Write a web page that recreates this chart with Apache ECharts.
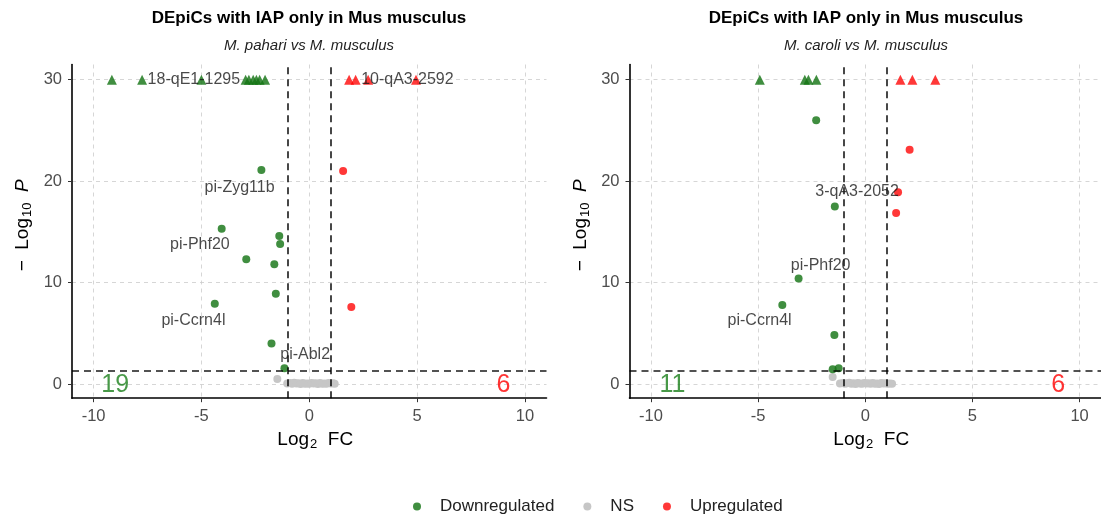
<!DOCTYPE html>
<html><head><meta charset="utf-8">
<script src="https://cdn.jsdelivr.net/npm/echarts@6/dist/echarts.min.js"></script>
<style>html,body{margin:0;padding:0;background:#fff}#c{width:1101px;height:517px}</style>
</head><body><div id="c"></div>
<script>
// ---------- data ----------
const xTicks = [-10, -5, 0, 5, 10];
const yTicks = [0, 10, 20, 30];
const titleText = 'DEpiCs with IAP only in Mus musculus';
const subtitles = ['M. pahari vs M. musculus', 'M. caroli vs M. musculus'];
const legendNames = ['Downregulated', 'NS', 'Upregulated'];
const fcCut = 1;
const pCut = 1.30103;

// panel 1: M. pahari vs M. musculus
const p1DownTri = [[-9.15,30],[-7.75,30],[-5.0,30],[-2.95,30],[-2.8,30],[-2.6,30],[-2.45,30],[-2.3,30],[-2.05,30]];
const p1DownCirc = [[-2.22,21.1],[-4.06,15.3],[-1.39,14.6],[-1.35,13.8],[-2.92,12.3],[-1.62,11.8],[-1.55,8.9],[-4.38,7.9],[-1.75,4.0],[-1.15,1.55]];
const p1UpTri = [[1.85,30],[2.15,30],[2.73,30],[4.95,30]];
const p1UpCirc = [[1.57,21.0],[1.95,7.6]];
const p1NS = [[-1.48,0.5],[-1.02,0.05],[-0.9,0.1],[-0.8,0.02],[-0.7,0.12],[-0.6,0.04],[-0.5,0.08],[-0.4,0.01],[-0.3,0.1],[-0.2,0.03],[-0.1,0.06],[0.0,0.02],[0.1,0.09],[0.2,0.04],[0.3,0.07],[0.4,0.01],[0.5,0.11],[0.6,0.03],[0.7,0.06],[0.8,0.02],[0.9,0.1],[1.0,0.05],[1.1,0.08],[1.18,0.03]];
const p1Labels = [['18-qE1-1295',-5.35,30],['10-qA3-2592',4.55,30],['pi-Zyg11b',-3.23,19.35],['pi-Phf20',-5.07,13.7],['pi-Ccrn4l',-5.37,6.3],['pi-Abl2',-0.19,2.86]];
const p1Counts = [['19',-9,-0.15,'down'],['6',9,-0.15,'up']];

// panel 2: M. caroli vs M. musculus
const p2DownTri = [[-4.92,30],[-2.82,30],[-2.65,30],[-2.28,30]];
const p2DownCirc = [[-2.29,26.0],[-1.42,17.5],[-3.11,10.4],[-3.87,7.8],[-1.44,4.84],[-1.52,1.45],[-1.24,1.55]];
const p2UpTri = [[1.64,30],[2.2,30],[3.27,30]];
const p2UpCirc = [[2.07,23.1],[1.53,18.9],[1.44,16.85]];
const p2NS = [[-1.52,0.69],[-1.18,0.04],[-1.05,0.1],[-0.95,0.02],[-0.85,0.08],[-0.75,0.12],[-0.65,0.03],[-0.55,0.07],[-0.45,0.01],[-0.35,0.09],[-0.25,0.05],[-0.15,0.02],[-0.05,0.11],[0.05,0.04],[0.15,0.07],[0.25,0.02],[0.35,0.1],[0.45,0.03],[0.55,0.06],[0.65,0.01],[0.75,0.09],[0.85,0.04],[0.95,0.08],[1.05,0.02],[1.15,0.06],[1.25,0.03]];
const p2Labels = [['3-qA3-2052',-0.38,18.95],['pi-Phf20',-2.08,11.7],['pi-Ccrn4l',-4.93,6.3]];
const p2Counts = [['11',-9,-0.15,'down'],['6',9,-0.15,'up']];

// ---------- styles ----------
const FONT = 'Liberation Sans';
const colDown = '#167516', colUp = '#ff0000', colNS = '#c6c6c6';
const countCol = {down: '#1a7f1a', up: '#ff0000'};

const chart = echarts.init(document.getElementById('c'));

function xAxisFor(gi) {
  return {
    gridIndex: gi, type: 'value', min: -11, max: 11,
    name: 'Log{s|2}  FC', nameLocation: 'middle', nameGap: 30,
    nameTextStyle: {fontFamily: FONT, fontSize: 19, color: '#000', padding: [0,0,0,12],
      rich: {s: {fontFamily: FONT, fontSize: 13, color: '#000', padding: [9,0,0,1]}}},
    axisLine: {show: true, onZero: false, lineStyle: {color: '#000', width: 1.6}},
    axisTick: {show: true, length: 4, lineStyle: {color: '#333', width: 1}, customValues: xTicks},
    axisLabel: {fontFamily: FONT, fontSize: 16.5, color: '#4d4d4d', margin: 10, customValues: xTicks},
    splitLine: {show: true, lineStyle: {color: '#cccccc', width: 0.8, type: [4,4]}}
  };
}
function yAxisFor(gi) {
  return {
    gridIndex: gi, type: 'value', min: -1.4, max: 31.5,
    name: '{a|−  Log}{s|10}{a|  }{i|P}', nameLocation: 'middle', nameGap: 38,
    nameTextStyle: {fontFamily: FONT, fontSize: 19, color: '#000', padding: [0,0,0,12],
      rich: {a: {fontFamily: FONT, fontSize: 19, color: '#000'},
             s: {fontFamily: FONT, fontSize: 13, color: '#000', padding: [9,0,0,1]},
             i: {fontFamily: FONT, fontSize: 19, fontStyle: 'italic', color: '#000'}}},
    axisLine: {show: true, onZero: false, lineStyle: {color: '#000', width: 1.6}},
    axisTick: {show: true, length: 4, lineStyle: {color: '#333', width: 1}, customValues: yTicks},
    axisLabel: {fontFamily: FONT, fontSize: 16.5, color: '#4d4d4d', margin: 10, customValues: yTicks},
    splitLine: {show: true, lineStyle: {color: '#cccccc', width: 0.8, type: [4,4]}}
  };
}

function pointSeries(gi, name, data, symbol, color, opacity, size) {
  return {
    type: 'scatter', name: name, xAxisIndex: gi, yAxisIndex: gi,
    data: data, symbol: symbol, symbolSize: size,
    itemStyle: {color: color, opacity: opacity}, silent: true, z: 3
  };
}

function panelSeries(gi, d) {
  return [
    {
      type: 'scatter', name: 'NS', xAxisIndex: gi, yAxisIndex: gi, data: d.ns,
      symbol: 'circle', symbolSize: 8, itemStyle: {color: colNS, opacity: 1}, z: 2, silent: true,
      markLine: {
        silent: true, symbol: 'none', label: {show: false},
        lineStyle: {color: '#000', width: 1.6, type: [7,5], opacity: 0.9},
        data: [{xAxis: -fcCut}, {xAxis: fcCut}, {yAxis: pCut}]
      }
    },
    pointSeries(gi, 'Downregulated', d.downCirc, 'circle', colDown, 0.82, 8),
    pointSeries(gi, 'Downregulated', d.downTri, 'triangle', colDown, 0.82, 10),
    pointSeries(gi, 'Upregulated', d.upCirc, 'circle', colUp, 0.78, 8),
    pointSeries(gi, 'Upregulated', d.upTri, 'triangle', colUp, 0.78, 10),
    {
      type: 'scatter', name: 'labels' + gi, xAxisIndex: gi, yAxisIndex: gi, symbolSize: 0, z: 5, silent: true,
      data: d.labels.map(l => ({name: l[0], value: [l[1], l[2]]})),
      label: {show: true, position: 'inside', formatter: '{b}', fontFamily: FONT, fontSize: 16, color: '#1a1a1a'}
    },
    {
      type: 'scatter', name: 'counts' + gi, xAxisIndex: gi, yAxisIndex: gi, symbolSize: 0, z: 5, silent: true,
      data: d.counts.map(c => ({name: c[0], value: [c[1], c[2]],
        label: {color: countCol[c[3]]}})),
      label: {show: true, position: 'inside', formatter: '{b}', fontFamily: FONT, fontSize: 25}
    }
  ];
}

const option = {
  animation: false,
  backgroundColor: '#fff',
  title: [
    {text: titleText, left: 309, top: 10, textAlign: 'center', padding: 0,
     textStyle: {fontFamily: FONT, fontSize: 17, fontWeight: 'bold', color: '#000'}},
    {text: subtitles[0], left: 309, top: 38, textAlign: 'center', padding: 0,
     textStyle: {fontFamily: FONT, fontSize: 15, fontStyle: 'italic', fontWeight: 'normal', color: '#222'}},
    {text: titleText, left: 866, top: 10, textAlign: 'center', padding: 0,
     textStyle: {fontFamily: FONT, fontSize: 17, fontWeight: 'bold', color: '#000'}},
    {text: subtitles[1], left: 866, top: 38, textAlign: 'center', padding: 0,
     textStyle: {fontFamily: FONT, fontSize: 15, fontStyle: 'italic', fontWeight: 'normal', color: '#222'}}
  ],
  legend: {
    data: legendNames, left: 413, top: 498, padding: 0, icon: 'circle',
    itemWidth: 36, itemHeight: 8, itemGap: 29,
    textStyle: {fontFamily: FONT, fontSize: 17, color: '#222'}
  },
  grid: [
    {left: 72, top: 64.5, width: 474.5, height: 333.7},
    {left: 629.5, top: 64.5, width: 474, height: 333.7}
  ],
  xAxis: [xAxisFor(0), xAxisFor(1)],
  yAxis: [yAxisFor(0), yAxisFor(1)],
  series: [
    ...panelSeries(0, {ns: p1NS, downCirc: p1DownCirc, downTri: p1DownTri, upCirc: p1UpCirc, upTri: p1UpTri, labels: p1Labels, counts: p1Counts}),
    ...panelSeries(1, {ns: p2NS, downCirc: p2DownCirc, downTri: p2DownTri, upCirc: p2UpCirc, upTri: p2UpTri, labels: p2Labels, counts: p2Counts})
  ]
};
chart.setOption(option);
</script>
</body></html>
